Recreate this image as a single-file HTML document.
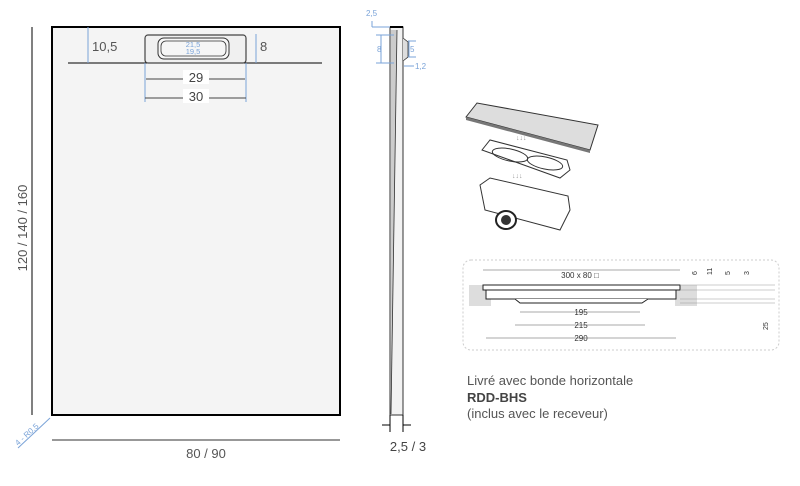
<!DOCTYPE html>
<html><head><meta charset="utf-8"><style>
html,body{margin:0;padding:0;background:#fff;}
svg{display:block;font-family:"Liberation Sans",sans-serif;}
</style></head><body>
<svg width="800" height="486" viewBox="0 0 800 486" xmlns="http://www.w3.org/2000/svg">
<!-- main tray -->
<rect x="52" y="27" width="288" height="388" fill="#f4f4f4" stroke="#000" stroke-width="2"/>
<line x1="32" y1="27" x2="32" y2="415" stroke="#000" stroke-width="1"/>
<text transform="translate(27,228) rotate(-90)" font-size="13" fill="#555" text-anchor="middle">120 / 140 / 160</text>
<line x1="52" y1="440" x2="340" y2="440" stroke="#777" stroke-width="1.5"/>
<text x="206" y="458" font-size="13" fill="#555" text-anchor="middle">80 / 90</text>
<line x1="18" y1="448" x2="50" y2="418" stroke="#7aa3d8" stroke-width="1"/>
<text transform="translate(18,446) rotate(-42)" font-size="8" fill="#7aa3d8">4 - R0,5</text>
<!-- top drain -->
<line x1="68" y1="63" x2="322" y2="63" stroke="#000" stroke-width="1"/>
<line x1="88" y1="27" x2="88" y2="63" stroke="#7aa3d8"/>
<text x="92" y="51" font-size="13" fill="#555">10,5</text>
<line x1="256" y1="34" x2="256" y2="63" stroke="#7aa3d8"/>
<text x="260" y="51" font-size="13" fill="#555">8</text>
<rect x="145" y="35" width="101" height="28" rx="3" fill="#f0f0f0" stroke="#444" stroke-width="1.2"/>
<rect x="158" y="38" width="71" height="21" rx="6" fill="#f6f6f6" stroke="#333" stroke-width="1"/>
<rect x="161" y="41" width="65" height="15" rx="5" fill="none" stroke="#333" stroke-width="0.8"/>
<text x="193" y="47" font-size="7.5" fill="#7aa3d8" text-anchor="middle">21,5</text>
<text x="193" y="54" font-size="7.5" fill="#7aa3d8" text-anchor="middle">19,5</text>
<line x1="145" y1="63" x2="145" y2="102" stroke="#7aa3d8"/>
<line x1="246" y1="63" x2="246" y2="102" stroke="#7aa3d8"/>
<line x1="146" y1="79" x2="245" y2="79" stroke="#444"/>
<rect x="183" y="70" width="26" height="14" fill="#fff"/>
<text x="196" y="82" font-size="13" fill="#444" text-anchor="middle">29</text>
<line x1="145" y1="98" x2="246" y2="98" stroke="#444"/>
<rect x="183" y="89" width="26" height="14" fill="#fff"/>
<text x="196" y="101" font-size="13" fill="#444" text-anchor="middle">30</text>
<!-- side profile -->
<rect x="390" y="27" width="13" height="388" fill="#f2f2f2" stroke="#333" stroke-width="1"/>
<polygon points="391,30 397,30 391,414" fill="#ccc"/>
<line x1="397" y1="30" x2="391" y2="414" stroke="#333" stroke-width="0.8"/>
<line x1="390" y1="27" x2="403" y2="27" stroke="#000" stroke-width="2"/>
<path d="M403 38 L408 42 L408 57 L403 61" fill="#ddd" stroke="#333" stroke-width="0.8"/>
<line x1="372" y1="27" x2="390" y2="27" stroke="#7aa3d8"/>
<line x1="372" y1="21" x2="372" y2="27" stroke="#7aa3d8"/>
<text x="366" y="16" font-size="8" fill="#7aa3d8">2,5</text>
<line x1="376" y1="35" x2="394" y2="35" stroke="#7aa3d8"/>
<line x1="376" y1="63" x2="394" y2="63" stroke="#7aa3d8"/>
<line x1="381" y1="35" x2="381" y2="63" stroke="#7aa3d8"/>
<text x="377" y="52" font-size="8" fill="#7aa3d8">8</text>
<line x1="408" y1="41" x2="416" y2="41" stroke="#7aa3d8"/>
<line x1="408" y1="57" x2="416" y2="57" stroke="#7aa3d8"/>
<line x1="409" y1="41" x2="409" y2="57" stroke="#7aa3d8"/>
<text x="410" y="52" font-size="8" fill="#7aa3d8">5</text>
<line x1="404" y1="66" x2="414" y2="66" stroke="#7aa3d8"/>
<text x="415" y="69" font-size="8" fill="#7aa3d8">1,2</text>
<line x1="390" y1="415" x2="390" y2="432" stroke="#000"/>
<line x1="403" y1="415" x2="403" y2="432" stroke="#000"/>
<line x1="382" y1="425" x2="390" y2="425" stroke="#000"/>
<line x1="403" y1="425" x2="411" y2="425" stroke="#000"/>
<text x="408" y="451" font-size="13" fill="#444" text-anchor="middle">2,5 / 3</text>
<!-- exploded drain -->
<path d="M466 117 L477 103 L598 125 L590 150 Z" fill="#ddd" stroke="#333" stroke-width="1"/>
<path d="M466 117 L590 150 L590 153 L466 120 Z" fill="#777"/>
<path d="M482 150 L490 140 L567 160 L570 170 L560 178 Z" fill="#fff" stroke="#333" stroke-width="1"/>
<ellipse cx="510" cy="155" rx="18" ry="6" fill="none" stroke="#333" transform="rotate(12 510 155)"/>
<ellipse cx="545" cy="163" rx="18" ry="6" fill="none" stroke="#333" transform="rotate(12 545 163)"/>
<path d="M480 185 L490 178 L568 196 L570 210 L560 230 L485 210 Z" fill="#fff" stroke="#333" stroke-width="1"/>
<ellipse cx="506" cy="220" rx="10" ry="9" fill="#fff" stroke="#222" stroke-width="2"/>
<ellipse cx="506" cy="220" rx="5" ry="5" fill="#333"/>
<text x="516" y="140" font-size="7" fill="#999">↓↓↓</text>
<text x="512" y="178" font-size="7" fill="#999">↓↓↓</text>
<!-- section drawing -->
<rect x="463" y="260" width="316" height="90" rx="8" fill="none" stroke="#ccc" stroke-dasharray="2,2"/>
<rect x="469" y="285" width="22" height="21" fill="#ddd"/>
<rect x="675" y="285" width="22" height="21" fill="#ddd"/>
<line x1="483" y1="270" x2="680" y2="270" stroke="#aaa"/>
<text x="580" y="278" font-size="8" fill="#333" text-anchor="middle">300 x 80 □</text>
<rect x="483" y="285" width="197" height="5" fill="#fff" stroke="#222"/>
<rect x="486" y="290" width="190" height="9" fill="#fff" stroke="#222"/>
<path d="M515 299 L520 303 L642 303 L648 299" fill="#fff" stroke="#222"/>
<line x1="680" y1="285" x2="775" y2="285" stroke="#999" stroke-width="0.6"/>
<line x1="680" y1="290" x2="775" y2="290" stroke="#999" stroke-width="0.6"/>
<line x1="680" y1="299" x2="775" y2="299" stroke="#999" stroke-width="0.6"/>
<line x1="680" y1="303" x2="775" y2="303" stroke="#999" stroke-width="0.6"/>
<text x="697" y="275" font-size="7" fill="#333" transform="rotate(-90 697 275)">6</text>
<text x="712" y="275" font-size="7" fill="#333" transform="rotate(-90 712 275)">11</text>
<text x="730" y="275" font-size="7" fill="#333" transform="rotate(-90 730 275)">5</text>
<text x="749" y="275" font-size="7" fill="#333" transform="rotate(-90 749 275)">3</text>
<text x="768" y="330" font-size="7" fill="#333" transform="rotate(-90 768 330)">25</text>
<line x1="520" y1="312" x2="640" y2="312" stroke="#aaa"/>
<text x="581" y="315" font-size="8" fill="#333" text-anchor="middle">195</text>
<line x1="515" y1="325" x2="645" y2="325" stroke="#aaa"/>
<text x="581" y="328" font-size="8" fill="#333" text-anchor="middle">215</text>
<line x1="486" y1="338" x2="676" y2="338" stroke="#aaa"/>
<text x="581" y="341" font-size="8" fill="#333" text-anchor="middle">290</text>
<text x="467" y="385" font-size="13" fill="#555">Livré avec bonde horizontale</text>
<text x="467" y="402" font-size="13" font-weight="bold" fill="#444">RDD-BHS</text>
<text x="467" y="418" font-size="13" fill="#555">(inclus avec le receveur)</text>
</svg>
</body></html>
